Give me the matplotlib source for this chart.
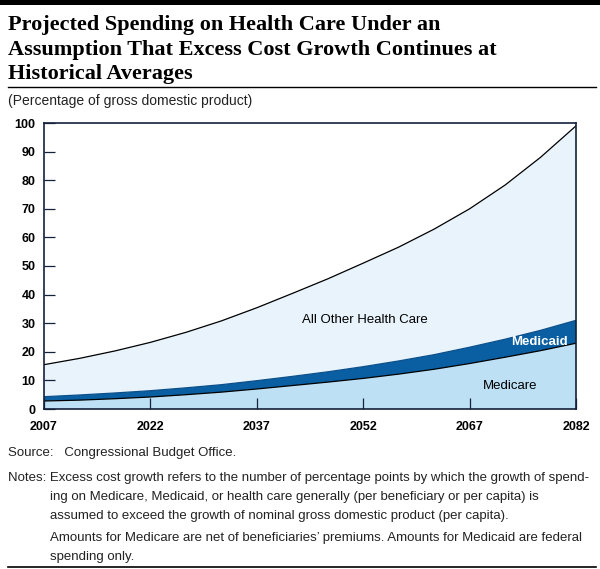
import matplotlib
matplotlib.use('Agg')
import matplotlib.pyplot as plt
from matplotlib.lines import Line2D
from matplotlib.patches import Rectangle

# Data (percentage of GDP)
years = [2007, 2012, 2017, 2022, 2027, 2032, 2037, 2042, 2047, 2052, 2057, 2062, 2067, 2072, 2077, 2082]
total_top = [15.5, 17.7, 20.3, 23.3, 26.8, 30.8, 35.4, 40.4, 45.5, 51.0, 56.6, 62.9, 70.0, 78.3, 88.0, 99.0]
medicaid_top = [4.3, 4.9, 5.6, 6.4, 7.4, 8.5, 9.9, 11.4, 13.0, 14.8, 16.8, 19.0, 21.6, 24.4, 27.5, 31.0]
medicare_top = [2.8, 3.1, 3.6, 4.2, 5.0, 5.9, 7.0, 8.2, 9.4, 10.7, 12.2, 13.9, 15.9, 18.1, 20.4, 23.0]

medicare = medicare_top
medicaid = [b - a for a, b in zip(medicare_top, medicaid_top)]
other = [b - a for a, b in zip(medicaid_top, total_top)]

x_ticks = [2007, 2022, 2037, 2052, 2067, 2082]
y_ticks = [0, 10, 20, 30, 40, 50, 60, 70, 80, 90, 100]

narrow = ['Liberation Sans Narrow', 'Liberation Sans', 'DejaVu Sans']
serif = ['Liberation Serif', 'DejaVu Serif']
navy = '#14213a'

W, H = 600, 569
fig = plt.figure(figsize=(6, 5.69), dpi=100)

def fx(px):
    return px / W

def fy(py):
    return 1 - py / H

# top black bar and rules
fig.add_artist(Rectangle((0, fy(5)), 1, 5 / H, transform=fig.transFigure, color='black', lw=0))
fig.add_artist(Line2D([fx(8), fx(596)], [fy(87), fy(87)], transform=fig.transFigure, color='black', lw=1))
fig.add_artist(Line2D([fx(8), fx(596)], [fy(567), fy(567)], transform=fig.transFigure, color='black', lw=1.2))

title_lines = ['Projected Spending on Health Care Under an',
               'Assumption That Excess Cost Growth Continues at',
               'Historical Averages']
for i, line in enumerate(title_lines):
    fig.text(fx(8), fy(30 + 24.5 * i), line, family=serif, weight='bold', fontsize=16,
             va='baseline', ha='left', color='black')

fig.text(fx(8), fy(101), '(Percentage of gross domestic product)', family=narrow,
         fontsize=10, va='center', ha='left', color='#222222')

ax = fig.add_axes([fx(44), fy(409), fx(576) - fx(44), (409 - 123) / H])
ax.stackplot(years, medicare, medicaid, other,
             colors=['#bde0f5', '#0a5fa3', '#e8f3fc'], lw=0)
ax.plot(years, total_top, color='black', lw=0.9)
ax.plot(years, medicare_top, color='black', lw=0.9)
ax.plot(years, medicaid_top, color='#0a4f8a', lw=0.9)

ax.set_xlim(2007, 2082)
ax.set_ylim(0, 100)
ax.set_xticks(x_ticks)
ax.set_yticks(y_ticks)
ax.tick_params(axis='both', direction='in', length=8, width=0.9, color=navy,
               labelsize=9, pad=6)
ax.tick_params(axis='x', pad=9)
for lab in ax.get_xticklabels() + ax.get_yticklabels():
    lab.set_family(narrow)
    lab.set_weight('bold')
for s in ax.spines.values():
    s.set_color(navy)
    s.set_linewidth(1.2)

ax.text(2052.3, 31, 'All Other Health Care', family=narrow, fontsize=9.5, ha='center', va='center')
ax.text(2080.8, 23.3, 'Medicaid', family=narrow, fontsize=9.5, weight='bold', color='white',
        ha='right', va='center')
ax.text(2072.7, 8, 'Medicare', family=narrow, fontsize=9.5, ha='center', va='center')

notes = [
    (8, 453, 'Source:   Congressional Budget Office.'),
    (8, 478, 'Notes: Excess cost growth refers to the number of percentage points by which the growth of spend-'),
    (50, 497, 'ing on Medicare, Medicaid, or health care generally (per beneficiary or per capita) is'),
    (50, 516, 'assumed to exceed the growth of nominal gross domestic product (per capita).'),
    (50, 538, 'Amounts for Medicare are net of beneficiaries\u2019 premiums. Amounts for Medicaid are federal'),
    (50, 557, 'spending only.'),
]
for x, y, t in notes:
    fig.text(fx(x), fy(y), t, family=narrow, fontsize=9.5, va='center', ha='left', color='#222222')

fig.savefig('out.png', dpi=100, facecolor='white')
